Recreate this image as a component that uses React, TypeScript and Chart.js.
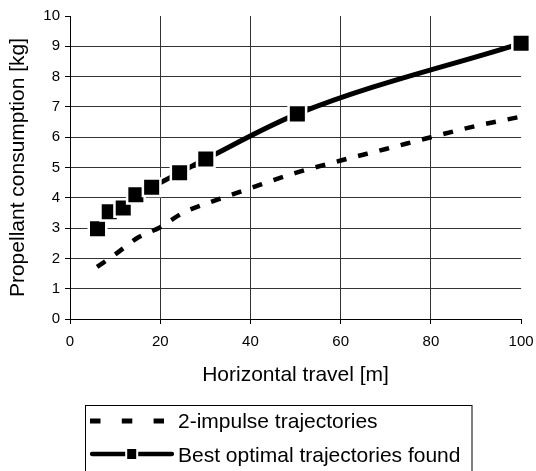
import React, { useEffect, useRef } from "react";
import { Chart, registerables } from "chart.js";

Chart.register(...registerables);

const xTicks = [0, 20, 40, 60, 80, 100];
const yTicks = [0, 1, 2, 3, 4, 5, 6, 7, 8, 9, 10];

const impulseX = [6, 10, 15, 20, 25, 30, 35, 40, 50, 60, 70, 80, 90, 100];
const impulseY = [1.72, 2.13, 2.68, 3.03, 3.5, 3.8, 4.06, 4.32, 4.82, 5.23, 5.61, 6.0, 6.37, 6.68];

const optimalX = [6.1, 8.7, 11.8, 14.6, 18.1, 24.3, 30.1, 50.4, 100];
const optimalY = [2.98, 3.54, 3.66, 4.1, 4.35, 4.83, 5.28, 6.77, 9.1];

const seriesLabels = ["2-impulse trajectories", "Best optimal trajectories found"];
const xTitle = "Horizontal travel [m]";
const yTitle = "Propellant consumption [kg]";

const FONT = '"Liberation Sans", Arial, sans-serif';

const legendPlugin = {
  id: "customLegend",
  afterDraw(chart: any) {
    const ctx = chart.ctx as CanvasRenderingContext2D;
    const ds = chart.data.datasets;
    ctx.save();
    ctx.strokeStyle = "#000";
    ctx.lineWidth = 1;
    ctx.setLineDash([]);
    ctx.strokeRect(85.5, 405.5, 386.5, 90);
    // dashed item
    ctx.lineWidth = 5;
    ctx.lineCap = "butt";
    ctx.setLineDash([10.5, 21.3]);
    ctx.beginPath();
    ctx.moveTo(90, 421);
    ctx.lineTo(164, 421);
    ctx.stroke();
    ctx.setLineDash([]);
    // solid item with marker
    ctx.lineWidth = 4.3;
    ctx.lineCap = "round";
    ctx.beginPath();
    ctx.moveTo(92, 454);
    ctx.lineTo(172, 454);
    ctx.stroke();
    ctx.fillStyle = "#fff";
    ctx.fillRect(131.7 - 6.5, 454 - 7, 13, 14);
    ctx.fillStyle = "#000";
    ctx.fillRect(131.7 - 4.5, 454 - 5, 9, 10);
    // texts
    ctx.font = "21px " + FONT;
    ctx.textBaseline = "middle";
    ctx.textAlign = "left";
    ctx.fillText(ds[0].label, 178, 422.5);
    ctx.fillText(ds[1].label, 178, 456.5);
    ctx.restore();
  },
};

export default function App() {
  const ref = useRef<HTMLCanvasElement>(null);

  useEffect(() => {
    const canvas = ref.current!;
    const chart = new Chart(canvas, {
      type: "line",
      data: {
        datasets: [
          {
            label: seriesLabels[0],
            data: impulseX.map((x, i) => ({ x, y: impulseY[i] })),
            borderColor: "#000",
            borderWidth: 4.5,
            borderDash: [10, 12],
            borderCapStyle: "butt",
            pointRadius: 0,
            fill: false,
            tension: 0.4,
            cubicInterpolationMode: "monotone",
            clip: false,
          },
          {
            label: seriesLabels[1],
            data: optimalX.map((x, i) => ({ x, y: optimalY[i] })),
            borderColor: "#000",
            borderWidth: 5,
            pointStyle: "rect",
            pointRadius: 12.4,
            pointBackgroundColor: "#000",
            pointBorderColor: "#fff",
            pointBorderWidth: 2.5,
            fill: false,
            tension: 0.4,
            cubicInterpolationMode: "monotone",
            clip: false,
          },
        ],
      } as any,
      options: {
        responsive: false,
        animation: false,
        layout: { padding: { left: 0, right: 14, top: 16, bottom: 76 } },
        plugins: {
          legend: { display: false },
          tooltip: { enabled: false },
        },
        scales: {
          x: {
            type: "linear",
            min: 0,
            max: 100,
            afterBuildTicks: (s: any) => {
              s.ticks = xTicks.map((v) => ({ value: v }));
            },
            afterFit: (s: any) => {
              s.height = 76;
              s.paddingLeft = 0;
              s.paddingRight = 0;
            },
            ticks: {
              font: { size: 15, family: FONT },
              color: "#000",
              padding: 9,
              maxRotation: 0,
            },
            grid: {
              color: (c: any) =>
                c.tick && c.tick.value === 100 ? "rgba(0,0,0,0)" : "#333",
              tickColor: "#000",
              tickLength: 5,
              drawTicks: true,
            },
            border: { display: true, color: "#000", width: 1 },
            title: {
              display: true,
              text: xTitle,
              color: "#000",
              font: { size: 21, family: FONT },
              padding: { top: 0, bottom: 7.4 },
            },
          },
          y: {
            type: "linear",
            min: 0,
            max: 10,
            afterBuildTicks: (s: any) => {
              s.ticks = yTicks.map((v) => ({ value: v }));
            },
            afterFit: (s: any) => {
              s.width = 70;
              s.paddingTop = 0;
              s.paddingBottom = 0;
            },
            ticks: {
              font: { size: 15, family: FONT },
              color: "#000",
              padding: 5,
            },
            grid: {
              color: (c: any) =>
                c.tick && c.tick.value === 10 ? "rgba(0,0,0,0)" : "#333",
              tickColor: "#000",
              tickLength: 5,
              drawTicks: true,
            },
            border: { display: true, color: "#000", width: 1 },
            title: {
              display: true,
              text: yTitle,
              color: "#000",
              font: { size: 21, family: FONT },
              padding: { top: 6, bottom: 0 },
            },
          },
        },
      } as any,
      plugins: [legendPlugin],
    });
    return () => chart.destroy();
  }, []);

  return (
    <div
      style={{
        position: "absolute",
        left: 0,
        top: 0,
        width: 536,
        height: 471,
        background: "#fff",
        overflow: "hidden",
      }}
    >
      <canvas
        ref={ref}
        width={536}
        height={471}
        style={{ display: "block", width: 536, height: 471 }}
      />
    </div>
  );
}
